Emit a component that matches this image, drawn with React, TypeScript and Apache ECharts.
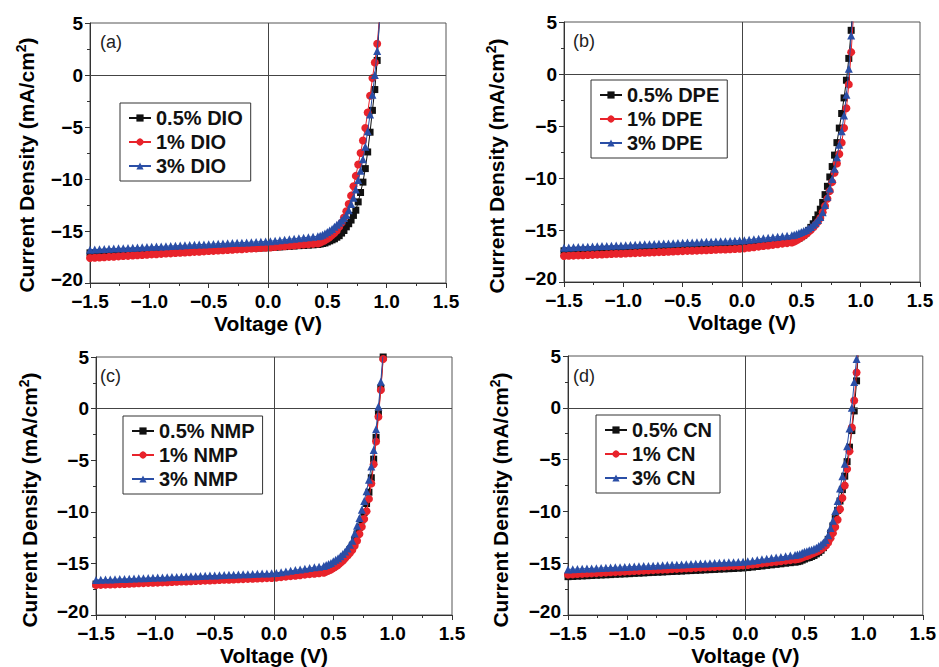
import React, { useEffect, useRef } from "react";
import * as echarts from "echarts";

// Voltage grid (V), shared by all curves
const voltage = [
  -1.5, -1.46, -1.42, -1.38, -1.34, -1.3, -1.26, -1.22, -1.18, -1.14, -1.1, -1.06, -1.02,
  -0.98, -0.94, -0.9, -0.86, -0.82, -0.78, -0.74, -0.7, -0.66, -0.62, -0.58, -0.54, -0.5,
  -0.46, -0.42, -0.38, -0.34, -0.3, -0.26, -0.22, -0.18, -0.14, -0.1, -0.06, -0.02, 0.02,
  0.06, 0.1, 0.14, 0.18, 0.22, 0.26, 0.3, 0.34, 0.38, 0.42,
  0.44, 0.46, 0.48, 0.5, 0.52, 0.54, 0.56, 0.58, 0.6, 0.62, 0.64, 0.66, 0.68, 0.7, 0.72,
  0.74, 0.76, 0.78, 0.8, 0.82, 0.84, 0.86, 0.88, 0.9, 0.92, 0.94, 0.96,
];

const panelLabels = ["(a)", "(b)", "(c)", "(d)"];
const dioNames = ["0.5% DIO", "1% DIO", "3% DIO"];
const dpeNames = ["0.5% DPE", "1% DPE", "3% DPE"];
const nmpNames = ["0.5% NMP", "1% NMP", "3% NMP"];
const cnNames = ["0.5% CN", "1% CN", "3% CN"];

const xTicks = [-1.5, -1.0, -0.5, 0.0, 0.5, 1.0, 1.5];
const yTicks = [-20, -15, -10, -5, 0, 5];

// Current density (mA/cm2)
const dio05 = [
  -17.1, -17.09, -17.07, -17.06, -17.05, -17.03, -17.02, -17.01, -16.99, -16.98, -16.97, -16.95, -16.94,
  -16.93, -16.91, -16.9, -16.89, -16.87, -16.86, -16.85, -16.83, -16.82, -16.81, -16.79, -16.78, -16.77,
  -16.75, -16.74, -16.73, -16.71, -16.7, -16.69, -16.67, -16.66, -16.65, -16.63, -16.62, -16.61, -16.59,
  -16.56, -16.53, -16.5, -16.47, -16.44, -16.41, -16.39, -16.36, -16.33, -16.3,
  -16.25, -16.2, -16.15, -16.05, -15.95, -15.85, -15.75, -15.6, -15.45, -15.2, -14.95, -14.6, -14.3, -13.95, -13.5,
  -13.0, -12.2, -11.3, -10.3, -9.0, -7.4, -5.5, -3.4, -1.4, 1.4, 5.5, 10.0,
];
const dio1 = [
  -17.6, -17.57, -17.55, -17.52, -17.49, -17.47, -17.44, -17.41, -17.39, -17.36, -17.33, -17.31, -17.28,
  -17.25, -17.23, -17.2, -17.17, -17.15, -17.12, -17.09, -17.07, -17.04, -17.01, -16.99, -16.96, -16.93,
  -16.91, -16.88, -16.85, -16.83, -16.8, -16.77, -16.75, -16.72, -16.69, -16.67, -16.64, -16.61, -16.58,
  -16.54, -16.5, -16.47, -16.43, -16.39, -16.35, -16.31, -16.28, -16.24, -16.2,
  -16.1, -16.0, -15.9, -15.75, -15.6, -15.4, -15.2, -14.95, -14.6, -14.2, -13.7, -13.1, -12.4, -11.6, -10.7,
  -9.7, -8.6, -7.5, -6.3, -5.1, -3.6, -2.0, -0.3, 1.2, 3.0, 5.5, 9.0,
];
const dio3 = [
  -16.8, -16.78, -16.76, -16.74, -16.71, -16.69, -16.67, -16.65, -16.63, -16.61, -16.59, -16.57, -16.54,
  -16.52, -16.5, -16.48, -16.46, -16.44, -16.42, -16.39, -16.37, -16.35, -16.33, -16.31, -16.29, -16.27,
  -16.25, -16.22, -16.2, -16.18, -16.16, -16.14, -16.12, -16.1, -16.07, -16.05, -16.03, -16.01, -15.98,
  -15.93, -15.88, -15.83, -15.79, -15.74, -15.69, -15.64, -15.6, -15.55, -15.5,
  -15.45, -15.35, -15.25, -15.1, -14.95, -14.8, -14.6, -14.4, -14.2, -14.0, -13.75, -13.45, -13.0, -12.4, -11.8,
  -11.0, -10.1, -9.2, -8.1, -6.9, -5.4, -3.8, -1.9, 0.0, 2.3, 5.2, 8.5,
];

const dpe05 = [
  -17.0, -16.99, -16.97, -16.96, -16.95, -16.93, -16.92, -16.91, -16.89, -16.88, -16.87, -16.85, -16.84,
  -16.83, -16.81, -16.8, -16.79, -16.77, -16.76, -16.75, -16.73, -16.72, -16.71, -16.69, -16.68, -16.67,
  -16.65, -16.64, -16.63, -16.61, -16.6, -16.59, -16.57, -16.56, -16.55, -16.53, -16.52, -16.51, -16.48,
  -16.44, -16.4, -16.37, -16.33, -16.29, -16.25, -16.21, -16.18, -16.14, -16.1,
  -16.0, -15.9, -15.8, -15.65, -15.5, -15.3, -15.05, -14.75, -14.4, -14.0, -13.55, -13.0, -12.35, -11.6, -10.8,
  -9.9, -8.9, -7.8, -6.6, -5.2, -3.8, -2.3, -0.6, 1.5, 4.2, 7.5, 11.0,
];
const dpe1 = [
  -17.5, -17.48, -17.46, -17.44, -17.43, -17.41, -17.39, -17.37, -17.35, -17.33, -17.31, -17.29, -17.28,
  -17.26, -17.24, -17.22, -17.2, -17.18, -17.16, -17.15, -17.13, -17.11, -17.09, -17.07, -17.05, -17.03,
  -17.01, -16.99, -16.98, -16.96, -16.94, -16.92, -16.9, -16.88, -16.87, -16.85, -16.83, -16.81, -16.77,
  -16.71, -16.66, -16.6, -16.54, -16.49, -16.43, -16.37, -16.31, -16.26, -16.2,
  -16.1, -16.0, -15.85, -15.7, -15.55, -15.4, -15.2, -15.0, -14.75, -14.5, -14.2, -13.85, -13.3, -12.7, -12.0,
  -11.25, -10.4, -9.5, -8.6, -7.7, -6.6, -5.2, -3.3, -1.0, 2.1, 5.8, 10.0,
];
const dpe3 = [
  -16.7, -16.68, -16.66, -16.64, -16.63, -16.61, -16.59, -16.57, -16.55, -16.53, -16.51, -16.49, -16.48,
  -16.46, -16.44, -16.42, -16.4, -16.38, -16.36, -16.35, -16.33, -16.31, -16.29, -16.27, -16.25, -16.23,
  -16.21, -16.19, -16.18, -16.16, -16.14, -16.12, -16.1, -16.08, -16.07, -16.05, -16.03, -16.01, -15.98,
  -15.93, -15.88, -15.83, -15.79, -15.74, -15.69, -15.64, -15.6, -15.55, -15.5,
  -15.45, -15.38, -15.3, -15.2, -15.1, -15.0, -14.85, -14.7, -14.5, -14.3, -14.05, -13.75, -13.3, -12.6, -11.8,
  -11.0, -10.1, -9.1, -8.0, -6.8, -5.5, -4.0, -2.0, 0.5, 3.7, 7.2, 11.0,
];

const nmp05 = [
  -17.0, -16.98, -16.96, -16.94, -16.93, -16.91, -16.89, -16.87, -16.85, -16.83, -16.81, -16.79, -16.78,
  -16.76, -16.74, -16.72, -16.7, -16.68, -16.66, -16.65, -16.63, -16.61, -16.59, -16.57, -16.55, -16.53,
  -16.51, -16.49, -16.48, -16.46, -16.44, -16.42, -16.4, -16.38, -16.37, -16.35, -16.33, -16.31, -16.28,
  -16.23, -16.18, -16.13, -16.09, -16.04, -15.99, -15.94, -15.9, -15.85, -15.8,
  -15.7, -15.6, -15.5, -15.35, -15.2, -15.0, -14.8, -14.55, -14.3, -14.0, -13.65, -13.25, -12.75, -12.15, -11.5,
  -10.8, -10.05, -9.2, -8.1, -6.7, -4.9, -2.8, -0.5, 2.0, 5.0, 8.6, 12.0,
];
const nmp1 = [
  -17.1, -17.08, -17.06, -17.04, -17.03, -17.01, -16.99, -16.97, -16.95, -16.93, -16.91, -16.89, -16.88,
  -16.86, -16.84, -16.82, -16.8, -16.78, -16.76, -16.75, -16.73, -16.71, -16.69, -16.67, -16.65, -16.63,
  -16.61, -16.59, -16.58, -16.56, -16.54, -16.52, -16.5, -16.48, -16.47, -16.45, -16.43, -16.41, -16.38,
  -16.33, -16.28, -16.23, -16.19, -16.14, -16.09, -16.04, -16.0, -15.95, -15.9,
  -15.8, -15.7, -15.6, -15.45, -15.3, -15.15, -14.95, -14.75, -14.5, -14.25, -14.0, -13.7, -13.3, -12.8, -12.15,
  -11.45, -10.7, -9.95, -8.75, -7.25, -5.4, -3.2, -0.8, 1.8, 4.8, 8.5, 12.0,
];
const nmp3 = [
  -16.6, -16.58, -16.57, -16.55, -16.53, -16.51, -16.5, -16.48, -16.46, -16.44, -16.43, -16.41, -16.39,
  -16.37, -16.36, -16.34, -16.32, -16.31, -16.29, -16.27, -16.25, -16.24, -16.22, -16.2, -16.18, -16.17,
  -16.15, -16.13, -16.11, -16.1, -16.08, -16.06, -16.05, -16.03, -16.01, -15.99, -15.98, -15.96, -15.92,
  -15.85, -15.78, -15.72, -15.65, -15.58, -15.52, -15.45, -15.38, -15.32, -15.25,
  -15.15, -15.05, -14.95, -14.8, -14.65, -14.5, -14.3, -14.1, -13.85, -13.55, -13.2, -12.8, -12.1, -11.35, -10.6,
  -9.8, -8.95, -8.0, -6.9, -5.6, -4.0, -2.0, 0.2, 2.6, 5.5, 9.0, 13.0,
];

const cn05 = [
  -16.3, -16.28, -16.25, -16.23, -16.21, -16.19, -16.16, -16.14, -16.12, -16.1, -16.07, -16.05, -16.03,
  -16.01, -15.98, -15.96, -15.94, -15.91, -15.89, -15.87, -15.85, -15.82, -15.8, -15.78, -15.76, -15.73,
  -15.71, -15.69, -15.67, -15.64, -15.62, -15.6, -15.57, -15.55, -15.53, -15.51, -15.48, -15.46, -15.42,
  -15.37, -15.32, -15.27, -15.21, -15.16, -15.11, -15.06, -15.0, -14.95, -14.9,
  -14.85, -14.8, -14.7, -14.6, -14.5, -14.45, -14.35, -14.25, -14.1, -13.95, -13.75, -13.5, -13.15, -12.7, -12.1,
  -11.4, -10.7, -9.9, -9.0, -7.9, -6.6, -5.2, -3.8, -2.2, -0.3, 2.6, 6.5,
];
const cn1 = [
  -16.1, -16.08, -16.05, -16.03, -16.0, -15.98, -15.96, -15.93, -15.91, -15.88, -15.86, -15.84, -15.81,
  -15.79, -15.76, -15.74, -15.72, -15.69, -15.67, -15.64, -15.62, -15.6, -15.57, -15.55, -15.52, -15.5,
  -15.48, -15.45, -15.43, -15.4, -15.38, -15.36, -15.33, -15.31, -15.28, -15.26, -15.24, -15.21, -15.17,
  -15.12, -15.07, -15.02, -14.96, -14.91, -14.86, -14.81, -14.75, -14.7, -14.65,
  -14.6, -14.55, -14.45, -14.35, -14.3, -14.2, -14.1, -14.0, -13.9, -13.8, -13.65, -13.5, -13.3, -13.0, -12.6,
  -12.1, -11.5, -10.8, -9.8, -8.7, -7.5, -5.9, -4.2, -1.9, 0.7, 3.4, 7.0,
];
const cn3 = [
  -15.6, -15.58, -15.56, -15.54, -15.52, -15.5, -15.48, -15.46, -15.44, -15.42, -15.4, -15.38, -15.36,
  -15.34, -15.32, -15.3, -15.28, -15.26, -15.24, -15.22, -15.2, -15.18, -15.16, -15.14, -15.12, -15.1,
  -15.08, -15.06, -15.04, -15.02, -15.0, -14.98, -14.96, -14.94, -14.92, -14.9, -14.88, -14.86, -14.82,
  -14.76, -14.7, -14.63, -14.57, -14.51, -14.45, -14.39, -14.32, -14.26, -14.2,
  -14.15, -14.1, -14.0, -13.9, -13.85, -13.75, -13.7, -13.6, -13.5, -13.35, -13.2, -13.0, -12.75, -12.3, -11.6,
  -10.9, -9.95, -9.0, -7.8, -6.6, -5.4, -3.7, -2.0, 0.0, 2.5, 4.7, 8.0,
];

const panelNames = [dioNames, dpeNames, nmpNames, cnNames];
const panelSeries = [
  [dio05, dio1, dio3],
  [dpe05, dpe1, dpe3],
  [nmp05, nmp1, nmp3],
  [cn05, cn1, cn3],
];

const COLORS = ["#111111", "#e8232b", "#2a4ea6"];
const SYMBOLS = ["rect", "circle", "triangle"];
const SYMBOL_SIZES = [7, 8, 8];
const FONT = "Liberation Sans, Arial, sans-serif";

const GRIDS = [
  { left: 90, top: 23, width: 356, height: 260 },
  { left: 564, top: 22, width: 356, height: 260 },
  { left: 96, top: 357, width: 356, height: 260 },
  { left: 568, top: 356, width: 356, height: 260 },
];
const LEGENDS = [
  { left: 120, top: 103 },
  { left: 591, top: 80 },
  { left: 123, top: 416 },
  { left: 596, top: 415 },
];
const LABEL_POS = [
  [100, 33],
  [573, 32],
  [100, 367],
  [573, 367],
];
const YTITLE_POS = [
  [26, 165],
  [496, 166],
  [29, 500],
  [500, 500],
];

const minus = (s: string) => s.replace("-", "\u2212");

export default function App() {
  const ref = useRef<HTMLDivElement>(null);
  useEffect(() => {
    if (!ref.current) return;
    const chart = echarts.init(ref.current, undefined, { renderer: "svg" });

    const grid = GRIDS.map((g) => ({
      ...g,
      show: true,
      borderColor: "#555",
      borderWidth: 1,
      backgroundColor: "transparent",
    }));

    const xAxis = GRIDS.map((_, i) => ({
      type: "value",
      gridIndex: i,
      min: xTicks[0],
      max: xTicks[xTicks.length - 1],
      interval: 0.5,
      axisLine: { show: true, onZero: false, lineStyle: { color: "#333", width: 1 } },
      axisTick: { show: true, length: 5, lineStyle: { color: "#333" } },
      minorTick: { show: true, splitNumber: 2, length: 3, lineStyle: { color: "#333" } },
      splitLine: { show: false },
      axisLabel: {
        formatter: (v: number) => minus(v.toFixed(1)),
        fontSize: 19,
        fontWeight: "bold",
        color: "#000",
        fontFamily: FONT,
        margin: 9,
      },
      name: "Voltage (V)",
      nameLocation: "middle",
      nameGap: 30,
      nameTextStyle: { fontSize: 21, fontWeight: "bold", color: "#000", fontFamily: FONT },
    }));

    const yAxis = GRIDS.map((_, i) => ({
      type: "value",
      gridIndex: i,
      min: yTicks[0],
      max: yTicks[yTicks.length - 1],
      interval: 5,
      axisLine: { show: true, onZero: false, lineStyle: { color: "#333", width: 1 } },
      axisTick: { show: true, length: 5, lineStyle: { color: "#333" } },
      minorTick: { show: true, splitNumber: 2, length: 3, lineStyle: { color: "#333" } },
      splitLine: { show: false },
      axisLabel: {
        formatter: (v: number) =>
          v === yTicks[0] ? "{low|" + minus(String(v)) + "}" : minus(String(v)),
        fontSize: 19,
        fontWeight: "bold",
        color: "#000",
        fontFamily: FONT,
        margin: 7,
        rich: {
          low: {
            fontSize: 19,
            fontWeight: "bold",
            color: "#000",
            fontFamily: FONT,
            padding: [0, 0, 8, 0],
          },
        },
      },
    }));

    const series: any[] = [];
    panelSeries.forEach((group, p) => {
      group.forEach((ys, s) => {
        series.push({
          type: "line",
          name: panelNames[p][s],
          xAxisIndex: p,
          yAxisIndex: p,
          data: voltage.map((v, i) => [v, ys[i]]),
          symbol: SYMBOLS[s],
          symbolSize: SYMBOL_SIZES[s],
          showSymbol: true,
          showAllSymbol: true,
          clip: true,
          color: COLORS[s],
          itemStyle: { color: COLORS[s] },
          lineStyle: { color: COLORS[s], width: 1 },
          z: 3 + s,
          markLine:
            s === 0
              ? {
                  silent: true,
                  symbol: "none",
                  label: { show: false },
                  lineStyle: { color: "#444", width: 1, type: "solid" },
                  data: [{ xAxis: 0 }, { yAxis: 0 }],
                }
              : undefined,
        });
      });
    });

    const legend = LEGENDS.map((l, p) => ({
      ...l,
      orient: "vertical",
      data: panelNames[p],
      borderColor: "#333",
      borderWidth: 1,
      borderRadius: 0,
      padding: [5, 8, 5, 8],
      itemGap: 4,
      itemWidth: 22,
      itemHeight: 9,
      textStyle: { fontSize: 20, fontWeight: "bold", color: "#111", fontFamily: FONT },
    }));

    const graphic: any[] = LABEL_POS.map((pos, p) => ({
      type: "text",
      x: pos[0],
      y: pos[1],
      style: { text: panelLabels[p], fontSize: 18, fontFamily: FONT, fill: "#222" },
    }));
    YTITLE_POS.forEach((pos) => {
      graphic.push({
        type: "text",
        x: pos[0],
        y: pos[1],
        rotation: Math.PI / 2,
        style: {
          text: "Current Density (mA/cm{sup|2})",
          fontSize: 21,
          fontWeight: "bold",
          fontFamily: FONT,
          fill: "#000",
          align: "center",
          verticalAlign: "middle",
          rich: {
            sup: {
              fontSize: 14,
              fontWeight: "bold",
              fontFamily: FONT,
              fill: "#000",
              verticalAlign: "bottom",
              padding: [0, 0, 10, 0],
            },
          },
        },
      });
    });

    chart.setOption({
      animation: false,
      backgroundColor: "#fff",
      grid,
      xAxis,
      yAxis,
      legend,
      series,
      graphic,
    });
    return () => chart.dispose();
  }, []);
  return (
    <div
      ref={ref}
      style={{ position: "fixed", left: 0, top: 0, width: 939, height: 667, background: "#fff" }}
    />
  );
}
